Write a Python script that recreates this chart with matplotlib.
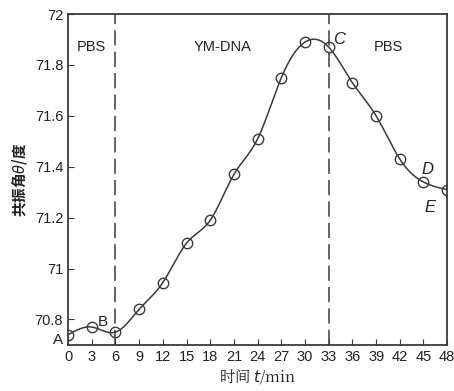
import numpy as np
import matplotlib
matplotlib.use("Agg")
import matplotlib.pyplot as plt

plt.rcParams['font.family'] = ['Liberation Sans', 'Noto Sans CJK SC', 'DejaVu Sans']

# data
t_min = [0, 3, 6, 9, 12, 15, 18, 21, 24, 27, 30, 33, 36, 39, 42, 45, 48]
angle = [70.74, 70.77, 70.75, 70.84, 70.945, 71.10, 71.19, 71.37, 71.51,
         71.75, 71.89, 71.87, 71.73, 71.60, 71.43, 71.34, 71.31]
xticks = list(range(0, 49, 3))
yticks = [70.8, 71, 71.2, 71.4, 71.6, 71.8, 72]
ytick_labels = ["70.8", "71", "71.2", "71.4", "71.6", "71.8", "72"]
phase_lines = [6, 33]

def natural_spline(x, y, n=400):
    x = np.asarray(x, float); y = np.asarray(y, float)
    k = len(x); h = np.diff(x)
    A = np.zeros((k, k)); r = np.zeros(k)
    A[0, 0] = A[-1, -1] = 1
    for i in range(1, k - 1):
        A[i, i-1] = h[i-1]; A[i, i] = 2*(h[i-1]+h[i]); A[i, i+1] = h[i]
        r[i] = 6*((y[i+1]-y[i])/h[i] - (y[i]-y[i-1])/h[i-1])
    M = np.linalg.solve(A, r)
    xs = np.linspace(x[0], x[-1], n)
    j = np.clip(np.searchsorted(x, xs) - 1, 0, k - 2)
    a = x[j+1] - xs; b = xs - x[j]; hh = h[j]
    ys = (M[j]*a**3 + M[j+1]*b**3)/(6*hh) + (y[j]/hh - M[j]*hh/6)*a + (y[j+1]/hh - M[j+1]*hh/6)*b
    return xs, ys

col = "#3a3a3a"
fig = plt.figure(figsize=(4.54, 3.91), dpi=100)
ax = fig.add_axes([0.150, 0.118, 0.835, 0.846])

xs, ys = natural_spline(t_min, angle)
ax.plot(xs, ys, color=col, lw=1.1)
ax.plot(t_min, angle, 'o', ms=7.5, mfc='none', mec=col, mew=1.0)
for xv in phase_lines:
    ax.axvline(xv, color=col, lw=1.1, ls=(0, (10, 4)))

ax.set_xlim(0, 48)
ax.set_ylim(70.7, 72)
ax.set_xticks(xticks)
ax.set_yticks(yticks)
ax.set_yticklabels(ytick_labels)
ax.tick_params(direction='in', length=4, color=col, labelcolor='#222', labelsize=10.5,
               top=False, right=False)
for s in ax.spines.values():
    s.set_color(col); s.set_linewidth(1.3)

ax.text(3, 71.87, "PBS", ha='center', va='center', fontsize=10.5, color='#222')
ax.text(19.5, 71.87, "YM-DNA", ha='center', va='center', fontsize=10.5, color='#222')
ax.text(40.5, 71.87, "PBS", ha='center', va='center', fontsize=10.5, color='#222')
ax.text(-0.6, 70.72, "A", ha='right', va='center', fontsize=11, color='#222', clip_on=False)
ax.text(5.0, 70.79, "B", ha='right', va='center', fontsize=11, color='#222')
ax.text(33.6, 71.9, "C", ha='left', va='center', fontsize=12, style='italic', color='#222')
ax.text(45.5, 71.39, "D", ha='center', va='center', fontsize=12, style='italic', color='#222')
ax.text(45.8, 71.24, "E", ha='center', va='center', fontsize=12, style='italic', color='#222')

ax.set_xlabel("时间 $t$/min", fontsize=11, family=['Noto Serif CJK SC', 'Noto Sans CJK SC', 'DejaVu Serif'],
              labelpad=2, color='#222')
ax.set_ylabel(r"共振角$\theta$/度", fontsize=10.5, family=['Noto Sans CJK SC', 'DejaVu Sans'],
              fontweight='bold', labelpad=4, color='#222')

fig.savefig("out.png", dpi=100)
